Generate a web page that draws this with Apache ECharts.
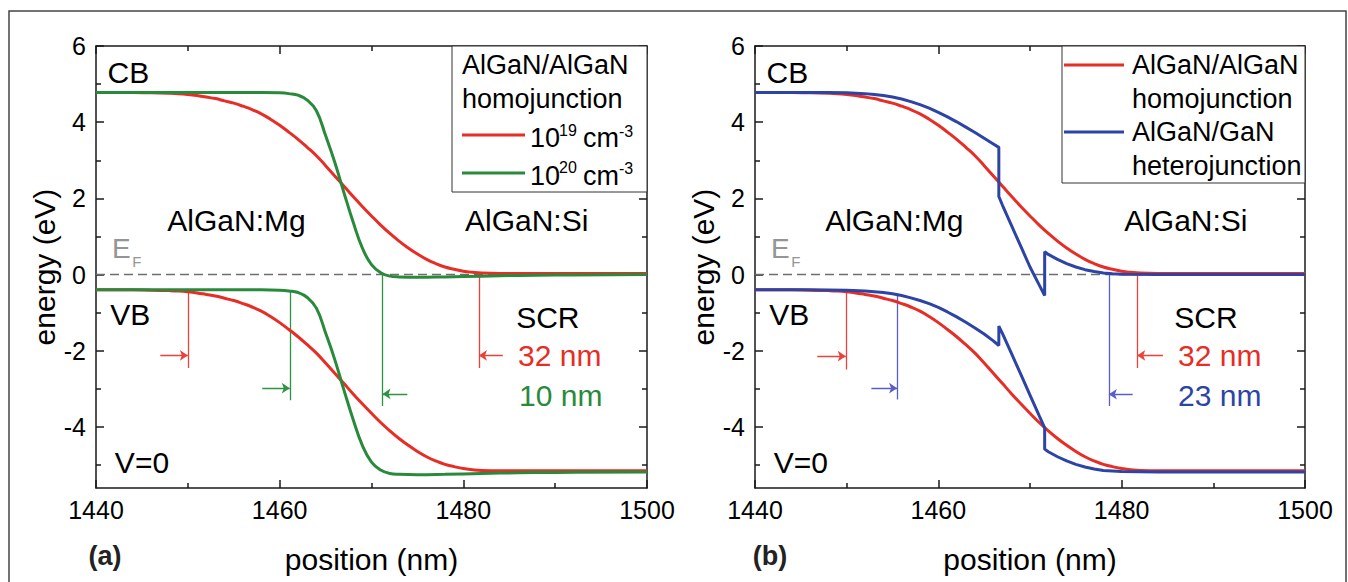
<!DOCTYPE html>
<html><head><meta charset="utf-8">
<script src="https://cdn.jsdelivr.net/npm/echarts@6/dist/echarts.min.js"></script>
<style>html,body{margin:0;padding:0;background:#fff}#c{width:1348px;height:582px}</style>
</head><body><div id="c"></div>
<script>
// ---------- data ----------
const xTickLabels = [1440, 1460, 1480, 1500];
const yMajorTicks = [-4, -2, 0, 2, 4, 6];
const yMinorTicks = [-5, -3, -1, 1, 3, 5];

// AlGaN/AlGaN homojunction, 1e19 cm^-3 (panel a and b)
const homo19CB = [[1440,4.78],[1444,4.78],[1446,4.77],[1448,4.76],[1449,4.75],[1450,4.73],[1451,4.70],[1452,4.66],[1453,4.62],[1454,4.56],[1455,4.50],[1456,4.42],[1457,4.33],[1458,4.22],[1459,4.08],[1460,3.92],[1461,3.74],[1462,3.55],[1463,3.34],[1464,3.12],[1465,2.86],[1466,2.59],[1467,2.32],[1468,2.05],[1469,1.79],[1470,1.54],[1471,1.30],[1472,1.08],[1473,0.88],[1474,0.70],[1475,0.54],[1476,0.40],[1477,0.29],[1478,0.20],[1479,0.14],[1480,0.09],[1481,0.06],[1482,0.04],[1484,0.03],[1500,0.03]];
const homo19VB = [[1440,-0.40],[1444,-0.40],[1446,-0.41],[1448,-0.42],[1449,-0.43],[1450,-0.45],[1451,-0.48],[1452,-0.52],[1453,-0.56],[1454,-0.62],[1455,-0.68],[1456,-0.76],[1457,-0.85],[1458,-0.96],[1459,-1.10],[1460,-1.26],[1461,-1.44],[1462,-1.63],[1463,-1.84],[1464,-2.06],[1465,-2.32],[1466,-2.59],[1467,-2.86],[1468,-3.13],[1469,-3.39],[1470,-3.64],[1471,-3.88],[1472,-4.10],[1473,-4.30],[1474,-4.48],[1475,-4.64],[1476,-4.78],[1477,-4.89],[1478,-4.98],[1479,-5.04],[1480,-5.09],[1481,-5.12],[1482,-5.14],[1484,-5.15],[1500,-5.15]];
// AlGaN/AlGaN homojunction, 1e20 cm^-3 (panel a)
const homo20CB = [[1440,4.78],[1458,4.78],[1460,4.77],[1461,4.75],[1462,4.71],[1463,4.58],[1464,4.30],[1465,3.65],[1466,2.95],[1467,2.15],[1468,1.38],[1469,0.70],[1470,0.26],[1471,0.05],[1472,-0.04],[1473,-0.06],[1475,-0.07],[1478,-0.06],[1482,-0.04],[1486,-0.02],[1490,-0.01],[1500,0.0]];
const homo20VB = [[1440,-0.40],[1458,-0.40],[1460,-0.41],[1461,-0.43],[1462,-0.47],[1463,-0.60],[1464,-0.88],[1465,-1.53],[1466,-2.23],[1467,-3.03],[1468,-3.80],[1469,-4.48],[1470,-4.92],[1471,-5.13],[1472,-5.22],[1473,-5.24],[1475,-5.25],[1478,-5.24],[1482,-5.22],[1486,-5.20],[1490,-5.19],[1500,-5.18]];
// AlGaN/GaN heterojunction (panel b)
const heteroCB = [[1440,4.78],[1446,4.78],[1448,4.78],[1450,4.77],[1451,4.76],[1452,4.75],[1453,4.73],[1454,4.70],[1455,4.66],[1456,4.61],[1457,4.54],[1458,4.46],[1459,4.37],[1460,4.26],[1461,4.14],[1462,4.01],[1463,3.87],[1464,3.73],[1465,3.58],[1466,3.43],[1466.6,3.34],[1466.6,2.05],[1467,1.82],[1468,1.28],[1469,0.74],[1470,0.20],[1471,-0.27],[1471.6,-0.55],[1471.6,0.60],[1472,0.53],[1473,0.40],[1474,0.29],[1475,0.20],[1476,0.13],[1477,0.08],[1478,0.04],[1479,0.02],[1480,0.01],[1484,0.0],[1500,0.0]];
const heteroVB = [[1440,-0.40],[1446,-0.40],[1450,-0.41],[1452,-0.43],[1453,-0.45],[1454,-0.47],[1455,-0.50],[1456,-0.55],[1457,-0.61],[1458,-0.68],[1459,-0.76],[1460,-0.86],[1461,-0.98],[1462,-1.11],[1463,-1.25],[1464,-1.40],[1465,-1.56],[1466,-1.74],[1466.6,-1.86],[1466.6,-1.35],[1467,-1.55],[1468,-2.08],[1469,-2.62],[1470,-3.16],[1471,-3.70],[1471.6,-4.02],[1471.6,-4.58],[1472,-4.65],[1473,-4.78],[1474,-4.89],[1475,-4.98],[1476,-5.05],[1477,-5.10],[1478,-5.14],[1480,-5.17],[1484,-5.18],[1500,-5.18]];
const fermiLevel = [[1440,0],[1500,0]];

// space-charge-region markers: edge x, line top y, line bottom y, arrow tail x, arrow y
const scrA = [
  {c:'red',   x:1450.0, top:-0.44, bot:-2.45, tail:1447.0, ay:-2.12},
  {c:'red',   x:1481.7, top:0.03,  bot:-2.45, tail:1484.3, ay:-2.12},
  {c:'green', x:1461.1, top:-0.43, bot:-3.30, tail:1458.1, ay:-2.98},
  {c:'green', x:1471.2, top:0.03,  bot:-3.45, tail:1473.9, ay:-3.13}
];
const scrB = [
  {c:'red',  x:1449.9, top:-0.45, bot:-2.49, tail:1446.8, ay:-2.14},
  {c:'red',  x:1481.7, top:0.03,  bot:-2.45, tail:1484.5, ay:-2.12},
  {c:'blue', x:1455.5, top:-0.50, bot:-3.28, tail:1452.7, ay:-2.98},
  {c:'blue', x:1478.6, top:0.03,  bot:-3.45, tail:1481.2, ay:-3.14}
];

// text annotations (data coordinates)
const notesA = [
  {t:'CB', x:1441.2, y:5.30, a:'left'},
  {t:'VB', x:1441.5, y:-1.05, a:'left'},
  {t:'V=0', x:1442.0, y:-4.93, a:'left'},
  {t:'AlGaN:Mg', x:1455.3, y:1.42, a:'center'},
  {t:'AlGaN:Si', x:1486.9, y:1.42, a:'center'},
  {t:'SCR', x:1489.2, y:-1.12, a:'center'},
  {t:'32 nm', x:1490.5, y:-2.12, a:'center', c:'red'},
  {t:'10 nm', x:1490.6, y:-3.17, a:'center', c:'green'},
  {t:'E', x:1441.7, y:0.68, a:'left', c:'gray', s:28},
  {t:'F', x:1443.9, y:0.34, a:'left', c:'gray', s:15}
];
const notesB = [
  {t:'CB', x:1441.2, y:5.30, a:'left'},
  {t:'VB', x:1441.5, y:-1.05, a:'left'},
  {t:'V=0', x:1442.0, y:-4.93, a:'left'},
  {t:'AlGaN:Mg', x:1455.2, y:1.42, a:'center'},
  {t:'AlGaN:Si', x:1487.0, y:1.42, a:'center'},
  {t:'SCR', x:1489.2, y:-1.12, a:'center'},
  {t:'32 nm', x:1490.7, y:-2.12, a:'center', c:'red'},
  {t:'23 nm', x:1490.7, y:-3.17, a:'center', c:'blue'},
  {t:'E', x:1441.7, y:0.68, a:'left', c:'gray', s:28},
  {t:'F', x:1443.9, y:0.34, a:'left', c:'gray', s:15}
];

// ---------- style ----------
const FF = "'Liberation Sans', Arial, sans-serif";
const COL = {red:'#e62d26', green:'#2a8a3c', blue:'#2c44a6', black:'#000000', gray:'#959595'};
const MARK = {red:'#e8423b', green:'#2f9442', blue:'#5a5ec8'};
const AX = '#1a1a1a';

function xAx(grid, pos, labels) {
  return {type:'value', gridIndex:grid, position:pos, min:1440, max:1500, interval:20,
    axisLine:{show:true, onZero:false, lineStyle:{color:AX, width:1.5}},
    axisTick:{show:true, inside:true, length:8, lineStyle:{color:AX, width:1.5}},
    minorTick:{show:true, splitNumber:2, length:5, lineStyle:{color:AX, width:1.5}},
    axisLabel:{show:labels, fontSize:25, color:'#000', fontFamily:FF, margin:9,
      formatter: v => xTickLabels.includes(v) ? String(v) : ''},
    splitLine:{show:false}, minorSplitLine:{show:false},
    name: labels ? 'position (nm)' : '', nameLocation:'middle', nameGap:56,
    nameTextStyle:{fontSize:30, fontFamily:FF, color:'#000'}};
}
function yAx(grid, pos, ticks, len, labels, line) {
  return {type:'value', gridIndex:grid, position:pos, min:-5.6, max:6,
    axisLine:{show:line, onZero:false, lineStyle:{color:AX, width:1.5}},
    axisTick:{show:true, inside:true, length:len, customValues:ticks, lineStyle:{color:AX, width:1.5}},
    axisLabel:{show:labels, customValues:yMajorTicks, fontSize:25, color:'#000', fontFamily:FF, margin:10},
    splitLine:{show:false},
    name: labels ? 'energy (eV)' : '', nameLocation:'middle', nameGap:36,
    nameTextStyle:{fontSize:30, fontFamily:FF, color:'#000'}};
}
function curve(data, color, xi, yi, smooth) {
  return {type:'line', data, xAxisIndex:xi, yAxisIndex:yi, showSymbol:false, symbol:'none',
    smooth: smooth ? 0.45 : false,
    lineStyle:{color, width:3}, z:5, silent:true};
}
function fermi(xi, yi) {
  return {type:'line', data:fermiLevel, xAxisIndex:xi, yAxisIndex:yi, symbol:'none',
    lineStyle:{color:'#6e6e6e', width:1.5, type:[9,5]}, z:2, silent:true};
}
function scrSeries(list, xi, yi) {
  return [
    {type:'lines', coordinateSystem:'cartesian2d', xAxisIndex:xi, yAxisIndex:yi, symbol:'none', z:4, silent:true,
      lineStyle:{width:1.3, opacity:1, curveness:0},
      data: list.map(m => ({coords:[[m.x, m.top],[m.x, m.bot]], lineStyle:{color:MARK[m.c]}}))},
    {type:'lines', coordinateSystem:'cartesian2d', xAxisIndex:xi, yAxisIndex:yi, symbol:['none','arrow'], symbolSize:8, z:4, silent:true,
      lineStyle:{width:1.3, opacity:1, curveness:0},
      data: list.map(m => ({coords:[[m.tail, m.ay],[m.x, m.ay]], lineStyle:{color:MARK[m.c]}}))}
  ];
}
function notes(list, xi, yi) {
  return {type:'scatter', xAxisIndex:xi, yAxisIndex:yi, symbolSize:1, itemStyle:{color:'rgba(0,0,0,0)', opacity:1}, z:6, silent:true,
    data: list.map(n => ({value:[n.x, n.y], label:{show:true, formatter:n.t, opacity:1,
      position: n.a === 'left' ? 'right' : 'inside', distance:0,
      color: COL[n.c || 'black'], fontSize: n.s || 30, fontFamily:FF}}))};
}

// legend (drawn as graphic text/lines)
function txt(x, y, text, size) {
  return {type:'text', x, y, z:20, style:{text, fontSize:size, fontFamily:FF, fill:'#000', verticalAlign:'middle'}};
}
function seg(x1, x2, y, color) {
  return {type:'line', z:20, shape:{x1, y1:y, x2, y2:y}, style:{stroke:color, lineWidth:3}};
}
const graphics = [
  {type:'rect', z:0, shape:{x:9, y:11, width:1337, height:620}, style:{fill:'none', stroke:'#444', lineWidth:1.5}},
  // panel a legend
  {type:'rect', z:19, shape:{x:452, y:46, width:195, height:146}, style:{fill:'#fff', stroke:'#333', lineWidth:1}},
  txt(462, 65, 'AlGaN/AlGaN', 27),
  txt(462, 99, 'homojunction', 27),
  seg(462, 525, 135, COL.red),
  txt(530, 138, '10', 27), txt(559, 130, '19', 16), txt(583, 138, 'cm', 27), txt(619, 131, '-3', 16),
  seg(462, 525, 173, COL.green),
  txt(530, 176, '10', 27), txt(559, 167, '20', 16), txt(583, 176, 'cm', 27), txt(619, 168, '-3', 16),
  // panel b legend
  {type:'rect', z:19, shape:{x:1062, y:46, width:243, height:137}, style:{fill:'#fff', stroke:'#333', lineWidth:1}},
  seg(1064, 1124, 65, COL.red),
  txt(1132, 65, 'AlGaN/AlGaN', 27),
  txt(1132, 99, 'homojunction', 27),
  seg(1064, 1124, 132, COL.blue),
  txt(1132, 132, 'AlGaN/GaN', 27),
  txt(1132, 166, 'heterojunction', 27),
  // panel labels
  {type:'text', x:105, y:556, z:20, style:{text:'(a)', fontSize:27, fontWeight:'bold', fontFamily:FF, fill:'#222', align:'center', verticalAlign:'middle'}},
  {type:'text', x:770, y:556, z:20, style:{text:'(b)', fontSize:27, fontWeight:'bold', fontFamily:FF, fill:'#222', align:'center', verticalAlign:'middle'}}
];

const chart = echarts.init(document.getElementById('c'), null, {renderer:'svg'});
chart.setOption({
  animation:false,
  backgroundColor:'#fff',
  grid:[
    {left:96, top:46, width:551, height:442},
    {left:755, top:46, width:550, height:442}
  ],
  xAxis:[xAx(0,'bottom',true), xAx(0,'top',false), xAx(1,'bottom',true), xAx(1,'top',false)],
  yAxis:[
    yAx(0,'left',yMajorTicks,8,true,true), yAx(0,'left',yMinorTicks,5,false,false),
    yAx(0,'right',yMajorTicks,8,false,true), yAx(0,'right',yMinorTicks,5,false,false),
    yAx(1,'left',yMajorTicks,8,true,true), yAx(1,'left',yMinorTicks,5,false,false),
    yAx(1,'right',yMajorTicks,8,false,true), yAx(1,'right',yMinorTicks,5,false,false)
  ],
  graphic: graphics,
  series:[
    fermi(0,0),
    curve(homo19CB, COL.red, 0, 0, true),
    curve(homo19VB, COL.red, 0, 0, true),
    curve(homo20CB, COL.green, 0, 0, true),
    curve(homo20VB, COL.green, 0, 0, true),
    ...scrSeries(scrA, 0, 0),
    notes(notesA, 0, 0),
    fermi(2,4),
    curve(homo19CB, COL.red, 2, 4, true),
    curve(homo19VB, COL.red, 2, 4, true),
    curve(heteroCB, COL.blue, 2, 4, false),
    curve(heteroVB, COL.blue, 2, 4, false),
    ...scrSeries(scrB, 2, 4),
    notes(notesB, 2, 4)
  ]
});
</script>
</body></html>
